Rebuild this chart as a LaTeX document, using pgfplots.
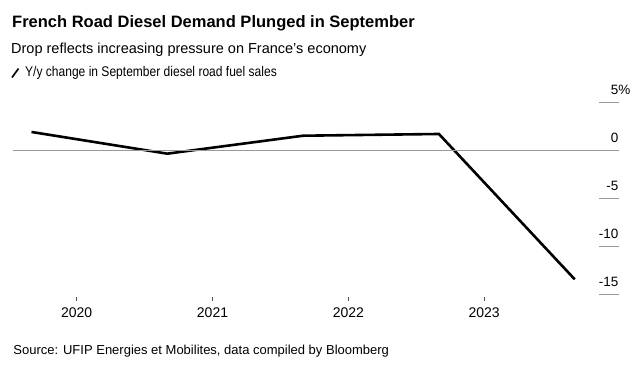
\documentclass[border=0pt]{standalone}
\usepackage{pgfplots}
\pgfplotsset{compat=1.18}
\usepackage{fontspec}
\setmainfont{Liberation Sans}
\newfontfamily\narrowfont[FakeStretch=0.86]{Liberation Sans}
\definecolor{zeroline}{HTML}{999999}
\begin{document}
\begin{tikzpicture}[x=1bp,y=1bp]
\useasboundingbox (0,0) rectangle (639,368);
% titles (pixel y measured from top -> 368 - y)
\node[anchor=base west, inner sep=0pt, font=\fontsize{16.5bp}{18bp}\selectfont\bfseries] at (12,{368-27}) {French Road Diesel Demand Plunged in September};
\node[anchor=base west, inner sep=0pt, font=\fontsize{14.5bp}{17bp}\selectfont] at (11,{368-53.3}) {Drop reflects increasing pressure on France's economy};
\draw[black, line width=1.6bp] (12,{368-77.5}) -- (18.5,{368-68.5});
\node[anchor=base west, inner sep=0pt, font=\narrowfont\fontsize{14bp}{16bp}\selectfont] at (25,{368-76}) {Y/y change in September diesel road fuel sales};
\node[anchor=base west, inner sep=0pt, font=\fontsize{13bp}{14bp}\selectfont] at (13.3,{368-354}) {Source: UFIP Energies et Mobilites, data compiled by Bloomberg};
\begin{axis}[
  at={(13bp,{(368-297)*1bp})}, anchor=south west,
  scale only axis, width=606bp, height=197bp,
  xmin=2019.531, xmax=2023.993,
  ymin=-15.24, ymax=5.28,
  axis line style={draw=none},
  xtick={2020,2021,2022,2023},
  xticklabels={2020,2021,2022,2023},
  xtick pos=bottom,
  tick align=outside,
  major tick length=4bp,
  x tick style={black!70, line width=0.6bp},
  xticklabel style={font=\fontsize{14bp}{15bp}\selectfont, yshift=-3bp},
  ytick={-15,-10,-5,0,5},
  yticklabels={-15,-10,-5,0,5\rlap{\%}},
  ytick pos=right,
  y tick style={draw=none},
  yticklabel style={font=\fontsize{13.5bp}{15bp}\selectfont, anchor=south east, inner sep=0pt, xshift=-4.5bp, yshift=7.5bp},
  clip=false,
]
\addplot[black, line width=2.6bp, mark=none] coordinates {
  (2019.667,1.95) (2020.667,-0.31) (2021.667,1.56) (2022.667,1.74) (2023.667,-13.4)
};
\end{axis}
% zero line and right-hand gridline dashes (drawn in picture units, same pixel positions as the axis)
\draw[zeroline, line width=1.5bp] (13,{368-150.7}) -- (619,{368-150.7});
\foreach \yy in {102.7,198.5,246.5,294.3} {
  \draw[zeroline, line width=1.5bp] (599,{368-\yy}) -- (619,{368-\yy});
}
\end{tikzpicture}
\end{document}
